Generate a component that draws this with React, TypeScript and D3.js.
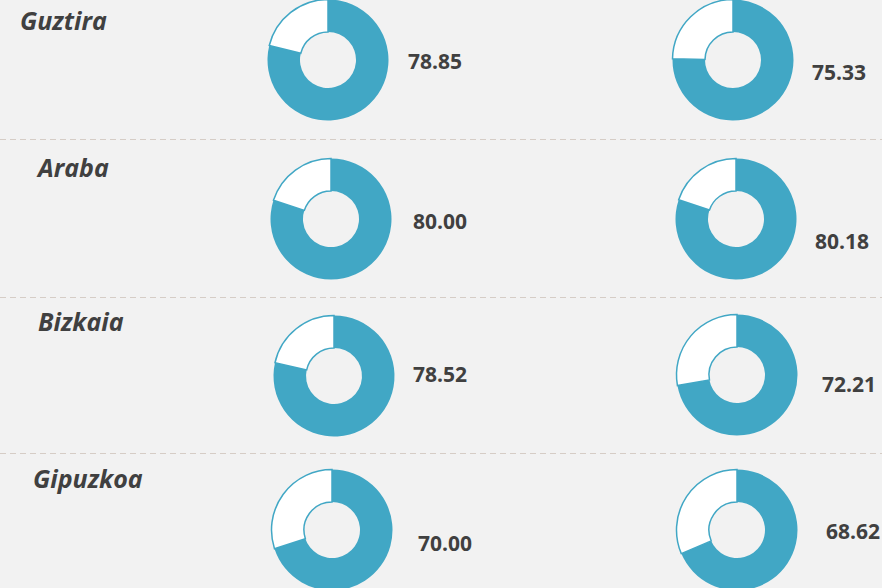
import React, { useRef, useEffect } from 'react';
import * as d3 from 'd3';

// data
const regions = ['Guztira', 'Araba', 'Bizkaia', 'Gipuzkoa'];
const leftValues = [78.85, 80.0, 78.52, 70.0];
const rightValues = [75.33, 80.18, 72.21, 68.62];

// layout (pixels)
const rowCenterY = [60, 219, 376, 530];
const leftCenterX = [328, 331, 334, 332];
const rightCenterX = [733, 736, 737, 737];
const rightCenterY = [60, 219, 375, 530];
const leftLabelPos = [[408, 61], [413, 221], [413, 374], [418, 543]];
const rightLabelPos = [[812, 72], [815, 241], [822, 384], [826, 531]];
const titlePos = [[20, 30], [38, 177], [38, 331], [33, 488]];
const separators = [139.5, 297.5, 453.5];

const W = 882;
const H = 588;
const BLUE = '#41a7c5';

const App = () => {
    const svgRef = useRef(null);

    useEffect(() => {
        const svg = d3.select(svgRef.current);
        svg.selectAll('*').remove();

        svg.append('rect')
            .attr('width', W)
            .attr('height', H)
            .attr('fill', '#f2f2f2');

        svg.selectAll('.sep')
            .data(separators)
            .enter().append('line')
            .attr('x1', 0)
            .attr('x2', W)
            .attr('y1', d => d)
            .attr('y2', d => d)
            .attr('stroke', '#d6cdc6')
            .attr('stroke-width', 1)
            .attr('stroke-dasharray', '6,4');

        const pie = d3.pie().sort(null).value(d => d);
        const arc = d3.arc().innerRadius(28).outerRadius(60.5);

        const drawDonut = (cx, cy, value) => {
            const g = svg.append('g').attr('transform', `translate(${cx},${cy})`);
            g.selectAll('path')
                .data(pie([value, 100 - value]))
                .enter().append('path')
                .attr('d', arc)
                .attr('fill', (d, i) => (i === 0 ? BLUE : '#ffffff'))
                .attr('stroke', BLUE)
                .attr('stroke-width', (d, i) => (i === 0 ? 0 : 1.5));
        };

        regions.forEach((name, i) => {
            drawDonut(leftCenterX[i], rowCenterY[i], leftValues[i]);
            drawDonut(rightCenterX[i], rightCenterY[i], rightValues[i]);

            svg.append('text')
                .attr('x', titlePos[i][0])
                .attr('y', titlePos[i][1])
                .style('font-family', '"Open Sans", sans-serif')
                .style('font-weight', 'bold')
                .style('font-style', 'italic')
                .style('font-size', '25px')
                .attr('fill', '#404040')
                .text(name);

            svg.append('text')
                .attr('x', leftLabelPos[i][0])
                .attr('y', leftLabelPos[i][1])
                .attr('dy', '0.36em')
                .style('font-family', '"Open Sans", sans-serif')
                .style('font-weight', 'bold')
                .style('font-size', '21px')
                .attr('fill', '#404040')
                .text(leftValues[i].toFixed(2));

            svg.append('text')
                .attr('x', rightLabelPos[i][0])
                .attr('y', rightLabelPos[i][1])
                .attr('dy', '0.36em')
                .style('font-family', '"Open Sans", sans-serif')
                .style('font-weight', 'bold')
                .style('font-size', '21px')
                .attr('fill', '#404040')
                .text(rightValues[i].toFixed(2));
        });
    }, []);

    return (
        <div style={{ position: 'fixed', top: 0, left: 0 }}>
            <svg ref={svgRef} width={W} height={H} style={{ display: 'block' }}></svg>
        </div>
    );
};

export default App;
